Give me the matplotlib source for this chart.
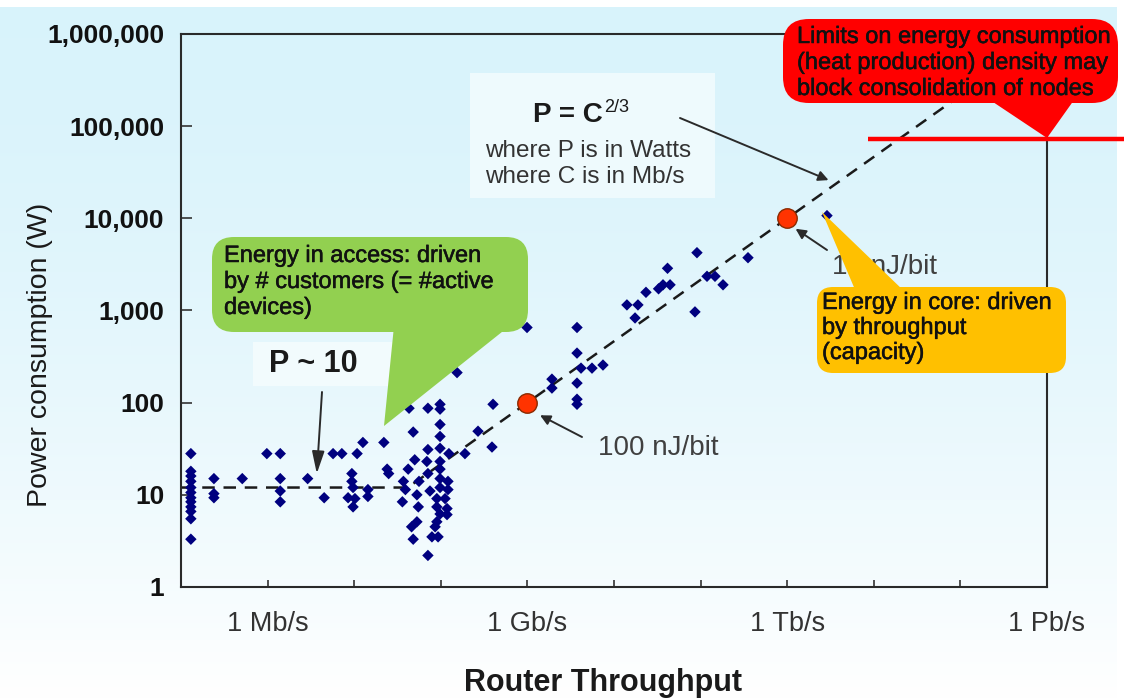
import numpy as np
import matplotlib
matplotlib.use('Agg')
import matplotlib.pyplot as plt
from matplotlib.patches import FancyBboxPatch, Polygon, Rectangle
from matplotlib.ticker import NullLocator
import matplotlib.patheffects as pe

plt.rcParams['font.family'] = ['Liberation Sans', 'DejaVu Sans']

# router throughput (Mb/s) and power consumption (W)
router_c = [0.13, 0.13, 0.13, 0.13, 0.13, 0.13, 0.13, 0.13, 0.13, 0.13, 0.13, 0.13,
            0.24, 0.24, 0.24, 0.51, 0.98, 1.4, 1.4, 1.4, 1.4, 2.9, 4.5,
            5.7, 7.2, 10.8, 12.6, 22, 9.4, 9.4, 9.7, 9.7, 8.5, 10.2, 14.4, 14.4,
            24, 25, 43, 71, 98, 98, 48, 98, 98, 71, 98, 124, 190,
            50, 69, 98, 42, 71, 98, 37, 56, 98, 121, 39, 75, 98, 121,
            36, 53, 90, 112, 55, 90, 118, 98, 118, 53, 90, 46, 86, 48, 79, 93, 71,
            154, 190, 248, 990, 269, 390, 401, 1920, 1920,
            3740, 3740, 3740, 3740, 3740, 4160, 5570, 7460,
            14100, 18900, 17500, 23400, 32700, 36800, 44400, 41500,
            90800, 352600, 118600, 146600, 181500, 86100, 2.88e6]
router_p = [28, 18, 16, 14, 12, 10.6, 9.3, 8.4, 7.4, 6.6, 5.5, 3.3,
            15, 10.3, 9.3, 15, 28, 28, 15, 11, 8.4, 15, 9.3,
            28, 28, 28, 37, 37, 17, 14, 12, 7.4, 9.3, 9.1, 11.4, 9.6,
            19, 17, 87, 87, 96, 85, 48, 58, 43, 31, 32, 28, 28,
            24, 23, 23, 19, 17, 19, 14, 14, 15, 14, 11.4, 11, 12, 11.4,
            8.4, 10, 9.1, 9.1, 7.4, 7.4, 7.1, 6.2, 6.1, 5.1, 5.1, 4.5, 4.5, 3.3, 3.5, 3.5, 2.2,
            212, 387, 503, 654, 49, 33, 96, 180, 144,
            654, 345, 163, 109, 96, 237, 237, 256,
            1150, 1150, 830, 1575, 1720, 1900, 1900, 2870,
            4240, 3740, 2350, 2350, 1900, 966, 10700]

# energy-per-bit reference points (1 Gb/s -> 100 W, 1 Tb/s -> 10 kW)
ref_c = [1e3, 1e6]
ref_p = [1e2, 1e4]

# trend line: flat around 12 W, then P = C^(2/3)
trend_c = [0.1, 41.6, 1e9]
trend_p = [12, 12, 1e6]

x_ticks = [1e0, 1e1, 1e2, 1e3, 1e4, 1e5, 1e6, 1e7, 1e8, 1e9]
x_ticklabels = ['1 Mb/s', '', '', '1 Gb/s', '', '', '1 Tb/s', '', '', '1 Pb/s']
y_ticks = [1, 10, 100, 1e3, 1e4, 1e5, 1e6]
y_ticklabels = ['1', '10', '100', '1,000', '10,000', '100,000', '1,000,000']

W, H = 1135, 699
fig = plt.figure(figsize=(W / 100, H / 100), dpi=100)
fig.patch.set_facecolor('white')

# light cyan background fading to white
bg = fig.add_axes([0, 0, 1, 1], zorder=0)
t = np.linspace(0, 1, 300)[:, None, None] ** 1.6
top = np.array([0.85, 0.953, 0.985])
img = top + (1 - top) * t
bg.imshow(img, extent=(0, 1117, H, 7), aspect='auto')
bg.set_xlim(0, W)
bg.set_ylim(H, 0)
bg.axis('off')

# main log-log axes
ax = fig.add_axes([181 / W, 1 - 587 / H, 866 / W, 553 / H], zorder=1)
ax.set_facecolor('none')
ax.set_xscale('log')
ax.set_yscale('log')
ax.set_xlim(0.1, 1e9)
ax.set_ylim(1, 1e6)

ax.plot(trend_c, trend_p, color='#1a1a1a', lw=1.8, ls=(0, (5, 3.5)), zorder=2)
ax.scatter(router_c, router_p, marker='D', s=34, color='#00007f',
           edgecolors='none', zorder=3)
ax.plot(ref_c, ref_p, 'o', ms=14, mfc='#ff3300', mec='#8a2a00', mew=1.0,
        ls='none', zorder=4)

ax.xaxis.set_minor_locator(NullLocator())
ax.yaxis.set_minor_locator(NullLocator())
ax.set_xticks(x_ticks)
ax.set_xticklabels(x_ticklabels, fontsize=19.5, color='#333333')
ax.set_yticks(y_ticks)
ax.set_yticklabels(y_ticklabels, fontsize=19, fontweight='bold', color='#111111')
ax.tick_params(axis='x', direction='in', length=5, width=1.2, pad=17, color='#333333')
ax.tick_params(axis='y', direction='in', length=8, width=1.2, pad=12, color='#333333')
for s in ax.spines.values():
    s.set_linewidth(1.5)
    s.set_color('#2a2a2a')

fig.text(40 / W, 1 - 355 / H, 'Power consumption (W)', rotation=90,
         ha='center', va='center', fontsize=20.5, color='#1a1a1a')
fig.text(603 / W, 1 - 683 / H, 'Router Throughput', ha='center', va='center',
         fontsize=22, fontweight='bold', color='#1a1a1a')

# overlay in pixel coordinates for callouts and notes
ov = fig.add_axes([0, 0, 1, 1], zorder=2)
ov.set_xlim(0, W)
ov.set_ylim(H, 0)
ov.axis('off')

heavy = [pe.withStroke(linewidth=0.35, foreground='#111111')]
arrow = dict(arrowstyle='-|>', color='#2a2a2a', lw=1.4, mutation_scale=15,
             shrinkA=0, shrinkB=0)

# formula note
ov.add_patch(Rectangle((470, 73), 245, 125, fc='#eefafd', ec='none', zorder=1))
ov.text(533, 122, 'P = C', fontsize=20, fontweight='bold', color='#1a1a1a', zorder=2)
ov.text(604, 112, '2/3', fontsize=13, color='#1a1a1a', zorder=2)
ov.text(485, 157, 'where P is in Watts', fontsize=17.5, color='#333333', zorder=2)
ov.text(485, 183, 'where C is in Mb/s', fontsize=17.5, color='#333333', zorder=2)
ov.annotate('', xy=(3e6, 2.6e4), xycoords=ax.transData, xytext=(680, 118),
            textcoords='data', arrowprops=arrow, zorder=3)

# P ~ 10 note
ov.add_patch(Rectangle((253, 342), 140, 44, fc='#f2fbfd', ec='none', zorder=1))
ov.text(313, 364, 'P ~ 10', fontsize=22, fontweight='bold', color='#1a1a1a',
        ha='center', va='center', zorder=2)
ov.annotate('', xy=(3.7, 17), xycoords=ax.transData, xytext=(322, 392),
            textcoords='data', zorder=3,
            arrowprops=dict(arrowstyle='-|>,head_length=0.9,head_width=0.25',
                            color='#2a2a2a', lw=1.4, mutation_scale=15,
                            shrinkA=0, shrinkB=0))

# energy per bit labels
ov.text(598, 455, '100 nJ/bit', fontsize=20, color='#404040', zorder=2)
ov.annotate('', xy=(1400, 73), xycoords=ax.transData, xytext=(582, 437),
            textcoords='data', arrowprops=arrow, zorder=3)
ov.text(832, 274, '10 nJ/bit', fontsize=20, color='#404040', zorder=2)
ov.annotate('', xy=(1.25e6, 7700), xycoords=ax.transData, xytext=(827, 250),
            textcoords='data', arrowprops=arrow, zorder=3)

# green callout: access
green = '#92d050'
ov.add_patch(FancyBboxPatch((212, 237), 316, 95, boxstyle='round,pad=0,rounding_size=22',
                            fc=green, ec='none', zorder=5))
ov.add_patch(Polygon([(394, 326), (527, 312), (384, 426)], closed=True,
                     fc=green, ec='none', zorder=5))
for yb, line in zip([262, 288, 314], ['Energy in access: driven',
                                      'by # customers (= #active', 'devices)']):
    ov.text(224, yb, line, fontsize=17, color='#111111', zorder=6, path_effects=heavy)

# yellow callout: core
yellow = '#ffc000'
ov.add_patch(FancyBboxPatch((817, 287), 249, 86, boxstyle='round,pad=0,rounding_size=16',
                            fc=yellow, ec='none', zorder=5))
ov.add_patch(Polygon([(822, 212), (856, 292), (905, 292)], closed=True,
                     fc=yellow, ec='none', zorder=5))
for yb, line in zip([309, 334, 359], ['Energy in core: driven', 'by throughput',
                                      '(capacity)']):
    ov.text(822, yb, line, fontsize=17, color='#111111', zorder=6, path_effects=heavy)

# red callout: density limit
ov.add_patch(FancyBboxPatch((783, 19), 335, 84, boxstyle='round,pad=0,rounding_size=26',
                            fc='#ff0000', ec='none', zorder=5))
ov.add_patch(Polygon([(990, 100), (1074, 100), (1047, 138)], closed=True,
                     fc='#ff0000', ec='none', zorder=5))
ov.plot([868, 1124], [139, 139], color='#ff0000', lw=3.2, solid_capstyle='butt', zorder=5)
for yb, line in zip([43, 69, 95], ['Limits on energy consumption',
                                   '(heat production) density may',
                                   'block consolidation of nodes']):
    ov.text(797, yb, line, fontsize=17, color='#111111', zorder=6, path_effects=heavy)

fig.savefig('out.png', dpi=100)
